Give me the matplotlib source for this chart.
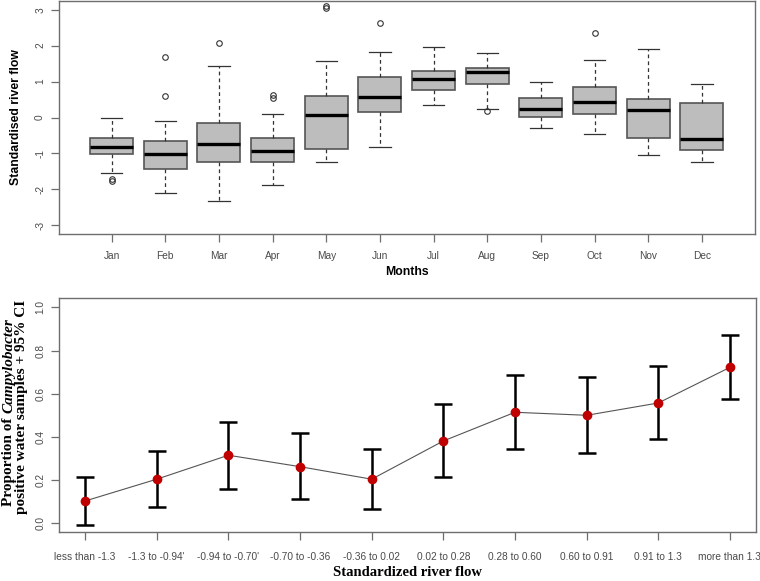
import matplotlib
matplotlib.use("Agg")
import matplotlib.pyplot as plt
import numpy as np

# ---------------- data: top panel (monthly boxplots) ----------------
months = ["Jan", "Feb", "Mar", "Apr", "May", "Jun", "Jul", "Aug", "Sep", "Oct", "Nov", "Dec"]
whis_lo = [-1.55, -2.10, -2.33, -1.89, -1.24, -0.82, 0.35, 0.25, -0.30, -0.46, -1.05, -1.25]
q1 = [-1.02, -1.44, -1.25, -1.25, -0.88, 0.16, 0.76, 0.93, 0.01, 0.09, -0.58, -0.89]
medians = [-0.83, -1.02, -0.73, -0.93, 0.06, 0.57, 1.07, 1.27, 0.25, 0.44, 0.21, -0.60]
q3 = [-0.57, -0.66, -0.14, -0.56, 0.61, 1.14, 1.30, 1.39, 0.53, 0.85, 0.51, 0.40]
whis_hi = [0.00, -0.09, 1.44, 0.11, 1.58, 1.82, 1.97, 1.79, 1.00, 1.60, 1.91, 0.93]
outliers = [[-1.72, -1.76], [1.68, 0.60], [2.06], [0.62, 0.53], [3.09, 3.05], [2.64],
            [], [0.18], [], [2.34], [], []]

# ---------------- data: bottom panel (proportions + CI) ----------------
flow_cats = ["less than -1.3", "-1.3 to -0.94'", "-0.94 to -0.70'", "-0.70 to -0.36",
             "-0.36 to 0.02", "0.02 to 0.28", "0.28 to 0.60", "0.60 to 0.91",
             "0.91 to 1.3", "more than 1.3"]
prop = [0.103, 0.204, 0.315, 0.262, 0.204, 0.381, 0.514, 0.500, 0.557, 0.722]
ci_low = [-0.009, 0.074, 0.157, 0.113, 0.065, 0.215, 0.346, 0.326, 0.390, 0.576]
ci_high = [0.216, 0.333, 0.471, 0.417, 0.346, 0.551, 0.685, 0.679, 0.730, 0.873]

W, H = 760, 581
fig = plt.figure(figsize=(W / 100, H / 100), dpi=100)
fig.patch.set_facecolor("white")

sans = "Liberation Sans"
serif = "Liberation Serif"
frame_col = "#6e6e6e"
tick_col = "#4a4a4a"
tick_fs = 7.3

def px_axes(left, top, right, bottom):
    return fig.add_axes([left / W, 1 - bottom / H, (right - left) / W, (bottom - top) / H])

# ---------------- top panel ----------------
ax1 = px_axes(59, 1, 754.5, 234)
stats = []
for i in range(len(months)):
    stats.append(dict(med=medians[i], q1=q1[i], q3=q3[i], whislo=whis_lo[i],
                      whishi=whis_hi[i], fliers=outliers[i], label=months[i]))
pos = np.arange(1, len(months) + 1)
ax1.bxp(stats, positions=pos, widths=0.8, patch_artist=True,
        boxprops=dict(facecolor="#bdbdbd", edgecolor="#555555", linewidth=1.2),
        medianprops=dict(color="black", linewidth=2.4),
        whiskerprops=dict(color="#333333", linewidth=0.9, linestyle=(0, (3, 2.5))),
        capprops=dict(color="#333333", linewidth=0.9),
        flierprops=dict(marker="o", markersize=4, markerfacecolor="none",
                        markeredgecolor="#333333", markeredgewidth=0.8),
        capwidths=0.4)
ax1.set_xlim(0.02, 12.98)
ax1.set_ylim(-3.24, 3.24)
ax1.set_yticks([-3, -2, -1, 0, 1, 2, 3])
ax1.set_yticklabels(["-3", "-2", "-1", "0", "1", "2", "3"], rotation=90, va="center")
ax1.set_xticks(pos)
ax1.set_xticklabels(months)
for sp in ax1.spines.values():
    sp.set_color(frame_col)
    sp.set_linewidth(1.0)
ax1.tick_params(axis="x", colors=frame_col, labelcolor=tick_col, length=6, width=0.9,
                labelsize=tick_fs, pad=6)
ax1.tick_params(axis="y", colors=frame_col, labelcolor=tick_col, length=6, width=0.9,
                labelsize=tick_fs, pad=4)
for lab in ax1.get_xticklabels() + ax1.get_yticklabels():
    lab.set_fontfamily(sans)
fig.text(407 / W, 1 - 272 / H, "Months", ha="center", va="center",
         fontfamily=sans, fontweight="bold", fontsize=8.8)
fig.text(16 / W, 1 - 117 / H, "Standardised river flow", rotation=90, ha="center",
         va="center", fontfamily=sans, fontweight="bold", fontsize=8.8)

# ---------------- bottom panel ----------------
ax2 = px_axes(59.3, 298.3, 755.7, 532.3)
x = np.arange(1, len(flow_cats) + 1)
prop_a = np.array(prop)
yerr = np.vstack([prop_a - np.array(ci_low), np.array(ci_high) - prop_a])
ax2.plot(x, prop_a, color="#555555", linewidth=0.8, zorder=2)
ax2.errorbar(x, prop_a, yerr=yerr, fmt="none", ecolor="black", elinewidth=1.8,
             capsize=6.5, capthick=1.8, zorder=3)
ax2.plot(x, prop_a, "o", color="#c00000", markersize=6, zorder=4)
ax2.set_xlim(0.64, 10.36)
ax2.set_ylim(-0.042, 1.042)
ax2.set_yticks([0.0, 0.2, 0.4, 0.6, 0.8, 1.0])
ax2.set_yticklabels(["0.0", "0.2", "0.4", "0.6", "0.8", "1.0"], rotation=90, va="center")
ax2.set_xticks(x)
ax2.set_xticklabels(flow_cats)
for sp in ax2.spines.values():
    sp.set_color(frame_col)
    sp.set_linewidth(1.0)
ax2.tick_params(axis="x", colors=frame_col, labelcolor=tick_col, length=6, width=0.9,
                labelsize=tick_fs, pad=8)
ax2.tick_params(axis="y", colors=frame_col, labelcolor=tick_col, length=6, width=0.9,
                labelsize=tick_fs, pad=4)
for lab in ax2.get_xticklabels() + ax2.get_yticklabels():
    lab.set_fontfamily(sans)
fig.text(407 / W, 1 - 573 / H, "Standardized river flow", ha="center", va="center",
         fontfamily=serif, fontweight="bold", fontsize=10.5)

# two-line y label with italic genus name
renderer = fig.canvas.get_renderer()
fs = 11
cx1 = 9 / W
cx2 = 22 / W
ycenter = 1 - 412 / H
t_a = fig.text(cx1, 0, "Proportion of ", rotation=90, ha="center", va="bottom",
               fontfamily=serif, fontweight="bold", fontsize=fs)
t_b = fig.text(cx1, 0, "Campylobacter", rotation=90, ha="center", va="bottom",
               fontfamily=serif, fontweight="bold", fontstyle="italic", fontsize=fs)
ha_px = t_a.get_window_extent(renderer).height
hb_px = t_b.get_window_extent(renderer).height
total = ha_px + hb_px
y0 = ycenter - total / 2 / H
t_a.set_position((cx1, y0))
t_b.set_position((cx1, y0 + ha_px / H))
fig.text(cx2, 1 - 407 / H, "positive water samples + 95% CI", rotation=90, ha="center",
         va="center", fontfamily=serif, fontweight="bold", fontsize=fs)

fig.savefig("out.png", dpi=100, facecolor="white")
